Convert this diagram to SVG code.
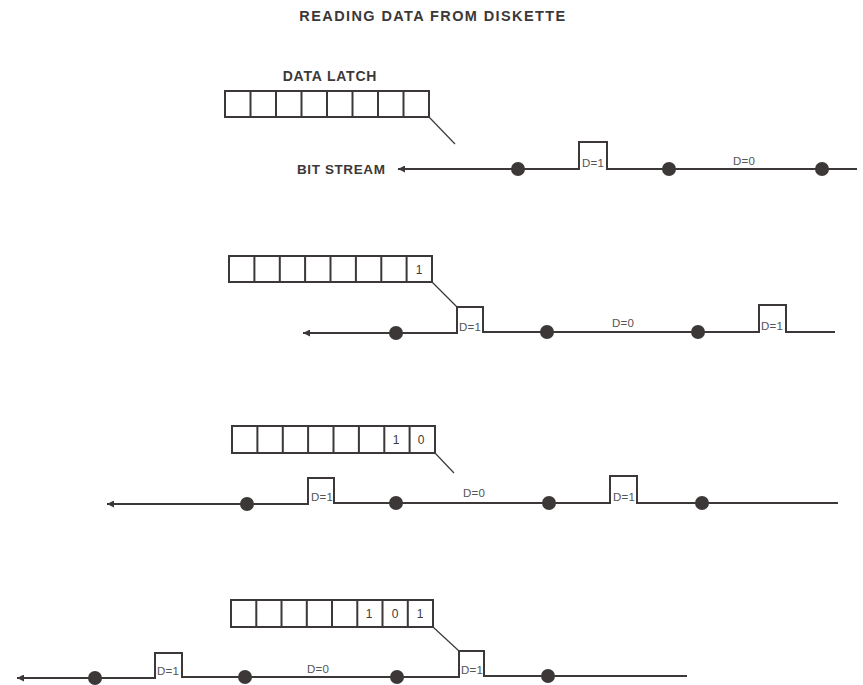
<svg xmlns="http://www.w3.org/2000/svg" width="863" height="685" viewBox="0 0 863 685">
<defs>
<style>
.t{font-family:"Liberation Sans",Arial,sans-serif;fill:#3d3838}
.h{font-weight:bold}
.d{font-size:11.5px;fill:#555;letter-spacing:0.3px}
.c{font-size:12px;text-anchor:middle}
.box{fill:none;stroke:#3d3838;stroke-width:2}
.div{stroke:#3d3838;stroke-width:2}
.ln{fill:none;stroke:#3d3838;stroke-width:2}
.lead{stroke:#3d3838;stroke-width:1.2}
.dot{fill:#3d3838}
</style>
<marker id="arr" viewBox="0 0 10 10" refX="0" refY="5" markerWidth="4.5" markerHeight="3.5" orient="auto" markerUnits="strokeWidth">
<path d="M0,5 L10,0 L10,10 Z" fill="#3d3838"/>
</marker>
</defs>
<rect width="863" height="685" fill="#fff"/>
<text class="t h" x="433" y="21" text-anchor="middle" style="font-size:14.5px;letter-spacing:1.4px">READING DATA FROM DISKETTE</text>

<g id="panel1">
<text class="t h" x="330" y="81" text-anchor="middle" style="font-size:14px;letter-spacing:0.8px">DATA LATCH</text>
<g id="latch1">
<rect class="box" x="225" y="91" width="204" height="26"/>
<path class="div" d="M250.5,91V117M276,91V117M301.5,91V117M327,91V117M352.5,91V117M378,91V117M403.5,91V117"/>
</g>
<text class="t h" x="297" y="174" style="font-size:13.5px;letter-spacing:0.6px">BIT STREAM</text>
</g>

<g id="panel2">
<g id="latch2">
<rect class="box" x="229" y="256" width="203" height="26"/>
<path class="div" d="M254.4,256V282M279.8,256V282M305.1,256V282M330.5,256V282M355.9,256V282M381.3,256V282M406.6,256V282"/>
<text class="t c" x="419" y="274">1</text>
</g>
</g>

<g id="panel3">
<g id="latch3">
<rect class="box" x="232" y="426" width="203" height="27"/>
<path class="div" d="M257.4,426V453M282.8,426V453M308.1,426V453M333.5,426V453M358.9,426V453M384.3,426V453M409.6,426V453"/>
<text class="t c" x="396" y="444">1</text>
<text class="t c" x="421" y="444">0</text>
</g>
</g>

<g id="panel4">
<g id="latch4">
<rect class="box" x="231" y="600" width="202" height="27"/>
<path class="div" d="M256.3,600V627M281.5,600V627M306.8,600V627M332,600V627M357.3,600V627M382.5,600V627M407.8,600V627"/>
<text class="t c" x="369" y="618">1</text>
<text class="t c" x="395" y="618">0</text>
<text class="t c" x="420" y="618">1</text>
</g>
</g>

<g id="connectors">
<line class="lead" x1="429" y1="117" x2="455" y2="144"/>
<path class="ln" marker-start="url(#arr)" d="M398,169 H579 V142 H607 V169 H857"/>
<circle class="dot" cx="518" cy="169" r="7"/>
<circle class="dot" cx="669" cy="169" r="7"/>
<circle class="dot" cx="822" cy="169" r="7"/>
<text class="t d" x="582" y="167">D=1</text>
<text class="t d" x="733" y="165">D=0</text>

<line class="lead" x1="432" y1="282" x2="457" y2="307"/>
<path class="ln" marker-start="url(#arr)" d="M303,333 H457 V307 H483 V332 H759 V305 H786 V332 H835"/>
<circle class="dot" cx="396" cy="333" r="7"/>
<circle class="dot" cx="547" cy="332" r="7"/>
<circle class="dot" cx="698" cy="332" r="7"/>
<text class="t d" x="459" y="331">D=1</text>
<text class="t d" x="612" y="327">D=0</text>
<text class="t d" x="761" y="330">D=1</text>

<line class="lead" x1="435" y1="453" x2="454" y2="473"/>
<path class="ln" marker-start="url(#arr)" d="M107,504 H308 V478 H334 V503 H610 V476 H637 V503 H838"/>
<circle class="dot" cx="247" cy="504" r="7"/>
<circle class="dot" cx="396" cy="503" r="7"/>
<circle class="dot" cx="549" cy="503" r="7"/>
<circle class="dot" cx="702" cy="503" r="7"/>
<text class="t d" x="311" y="501">D=1</text>
<text class="t d" x="463" y="497">D=0</text>
<text class="t d" x="613" y="501">D=1</text>

<line class="lead" x1="433" y1="627" x2="459" y2="651"/>
<path class="ln" marker-start="url(#arr)" d="M17,678 H155 V653 H182 V677 H459 V651 H484 V676 H687"/>
<circle class="dot" cx="95" cy="678" r="7"/>
<circle class="dot" cx="245" cy="677" r="7"/>
<circle class="dot" cx="397" cy="677" r="7"/>
<circle class="dot" cx="548" cy="676" r="7"/>
<text class="t d" x="157" y="675">D=1</text>
<text class="t d" x="307" y="673">D=0</text>
<text class="t d" x="461" y="674">D=1</text>
</g>
</svg>
